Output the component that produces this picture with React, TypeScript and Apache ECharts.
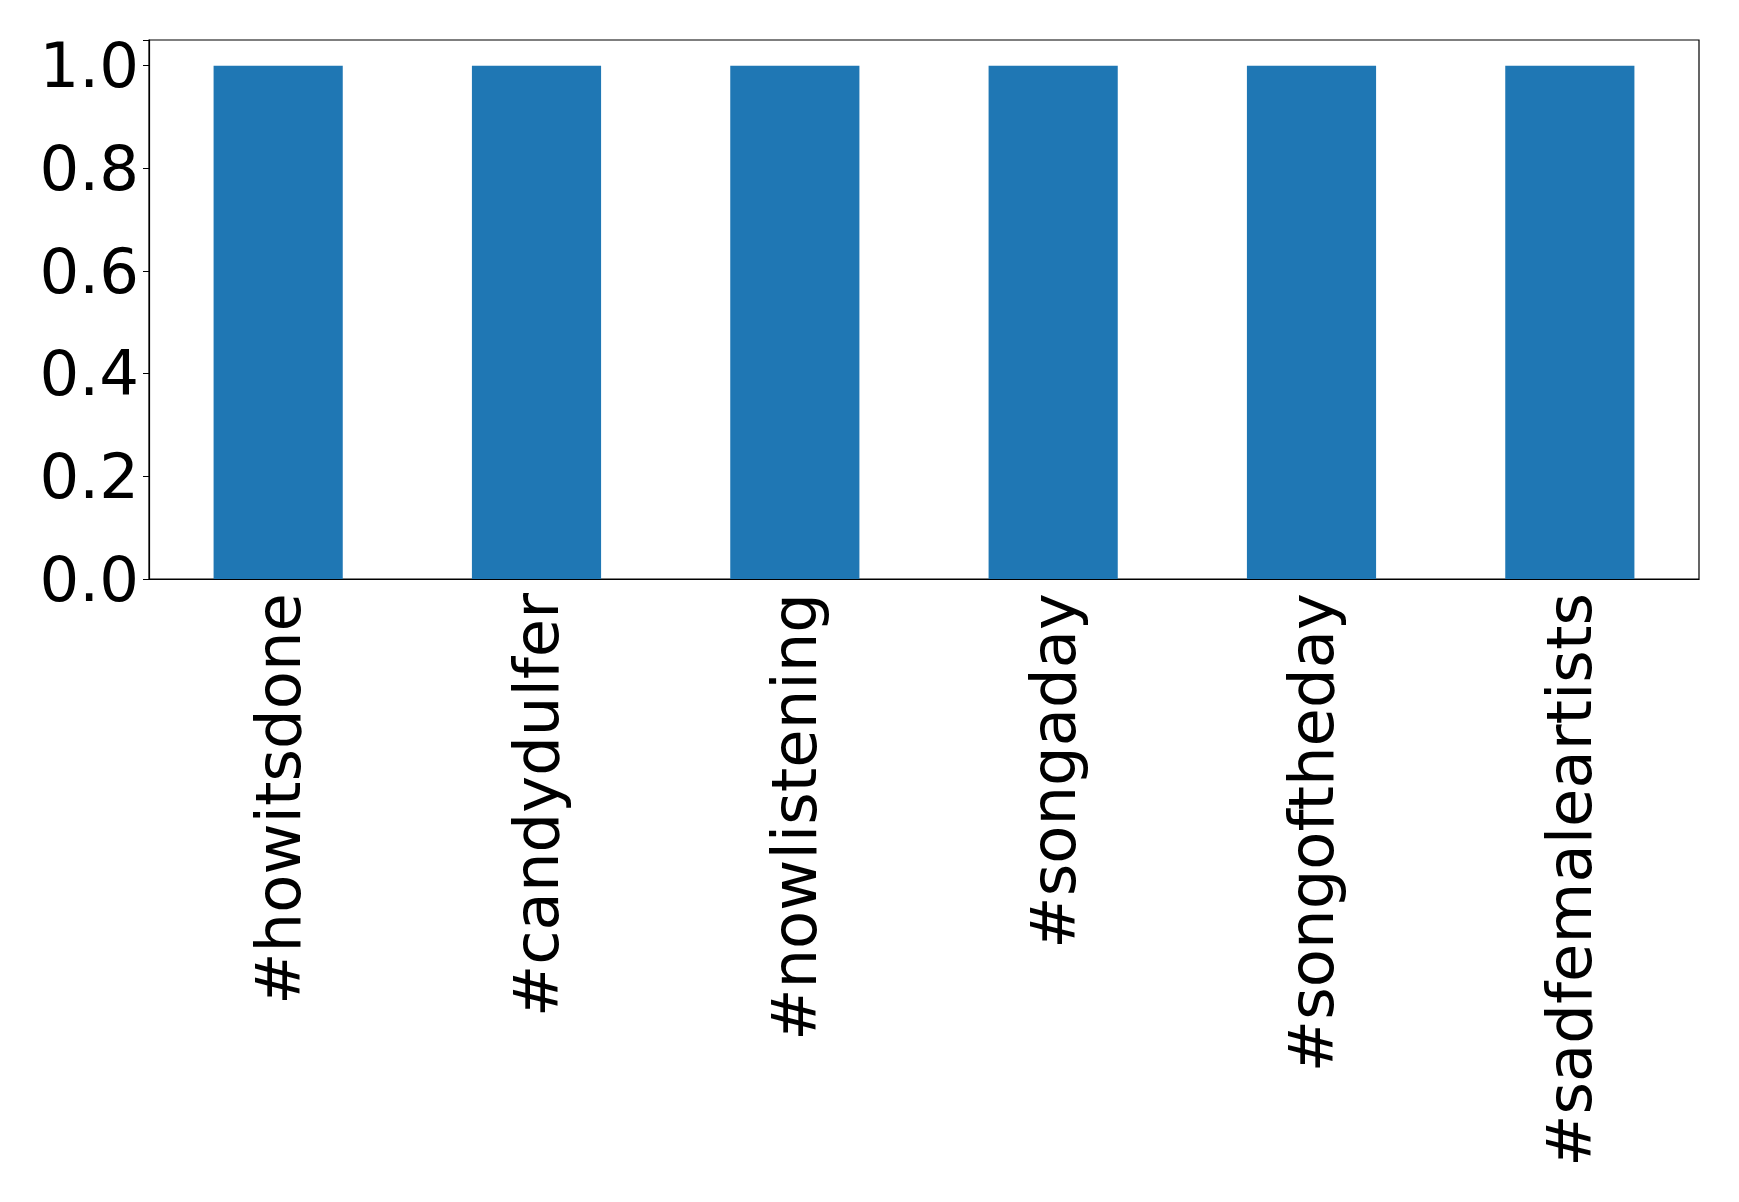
import React, { useEffect, useRef } from "react";
import * as echarts from "echarts";

const categories = [
  "#howitsdone",
  "#candydulfer",
  "#nowlistening",
  "#songaday",
  "#songoftheday",
  "#sadfemaleartists",
];
const values = [1, 1, 1, 1, 1, 1];
const yTicks = [0, 0.2, 0.4, 0.6, 0.8, 1.0];

export default function App() {
  const ref = useRef<HTMLDivElement>(null);
  useEffect(() => {
    if (!ref.current) return;
    const chart = echarts.init(ref.current, undefined, { renderer: "svg" });
    chart.setOption({
      animation: false,
      backgroundColor: "#fff",
      grid: {
        left: 149,
        top: 40,
        width: 1550,
        height: 539,
        show: true,
        borderColor: "#000",
        borderWidth: 1.2,
        backgroundColor: "transparent",
      },
      xAxis: {
        type: "category",
        data: categories,
        axisLine: { lineStyle: { color: "#000", width: 1.2 } },
        axisTick: { alignWithLabel: true, length: 6, lineStyle: { color: "#000" } },
        axisLabel: {
          rotate: 90,
          interval: 0,
          margin: 14,
          fontFamily: "DejaVu Sans",
          fontSize: 62.5,
          color: "#000",
        },
      },
      yAxis: {
        type: "value",
        min: 0,
        max: 1.05,
        interval: 0.2,
        splitLine: { show: false },
        axisLine: { show: true, lineStyle: { color: "#000", width: 1.2 } },
        axisTick: { show: true, length: 6, lineStyle: { color: "#000" } },
        axisLabel: {
          margin: 10,
          fontFamily: "DejaVu Sans",
          fontSize: 62.5,
          color: "#000",
          formatter: (v: number) =>
            yTicks.some((t) => Math.abs(t - v) < 1e-9) ? v.toFixed(1) : "",
        },
      },
      series: [
        {
          type: "bar",
          data: values,
          barWidth: "50%",
          itemStyle: { color: "#1f77b4" },
        },
      ],
    });
    return () => chart.dispose();
  }, []);
  return (
    <div
      ref={ref}
      style={{ position: "fixed", left: 0, top: 0, width: 1739, height: 1202 }}
    />
  );
}
